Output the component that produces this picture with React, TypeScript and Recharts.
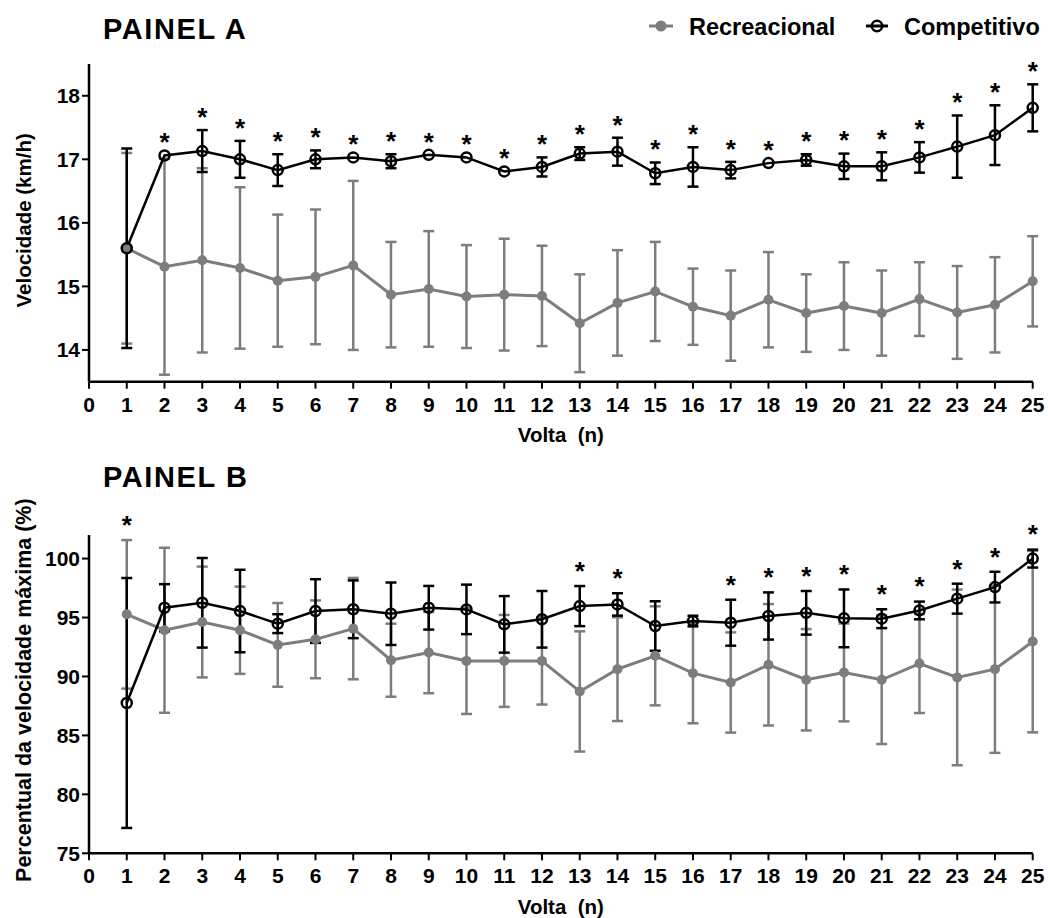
import React from 'react';
import { ComposedChart, Line, XAxis, YAxis, ErrorBar, Scatter, Legend } from 'recharts';

// ---------- data ----------
const laps = [1, 2, 3, 4, 5, 6, 7, 8, 9, 10, 11, 12, 13, 14, 15, 16, 17, 18, 19, 20, 21, 22, 23, 24, 25];
const xTicks = [0, 1, 2, 3, 4, 5, 6, 7, 8, 9, 10, 11, 12, 13, 14, 15, 16, 17, 18, 19, 20, 21, 22, 23, 24, 25];

// Painel A – velocidade (km/h)
const recA = [15.6, 15.31, 15.41, 15.29, 15.09, 15.15, 15.33, 14.87, 14.96, 14.84, 14.87, 14.85, 14.42, 14.74, 14.92, 14.68, 14.54, 14.79, 14.58, 14.69, 14.58, 14.8, 14.59, 14.71, 15.08];
const recASd = [1.5, 1.7, 1.45, 1.27, 1.04, 1.06, 1.33, 0.83, 0.91, 0.81, 0.88, 0.79, 0.77, 0.83, 0.78, 0.6, 0.71, 0.75, 0.61, 0.69, 0.67, 0.58, 0.73, 0.75, 0.71];
const compA = [15.6, 17.06, 17.13, 17.0, 16.83, 17.0, 17.03, 16.97, 17.07, 17.03, 16.81, 16.88, 17.09, 17.12, 16.78, 16.88, 16.83, 16.94, 16.99, 16.89, 16.89, 17.03, 17.2, 17.38, 17.81];
const compASd = [1.57, 0, 0.33, 0.29, 0.25, 0.14, 0, 0.11, 0, 0, 0, 0.15, 0.1, 0.22, 0.17, 0.31, 0.13, 0, 0.09, 0.2, 0.22, 0.24, 0.49, 0.47, 0.37];
const sigA = [2, 3, 4, 5, 6, 7, 8, 9, 10, 11, 12, 13, 14, 15, 16, 17, 18, 19, 20, 21, 22, 23, 24, 25];
const yTicksA = [14, 15, 16, 17, 18];

// Painel B – percentual da velocidade máxima (%)
const recB = [95.27, 93.92, 94.62, 93.92, 92.68, 93.15, 94.06, 91.38, 92.03, 91.32, 91.32, 91.32, 88.73, 90.62, 91.75, 90.28, 89.49, 90.99, 89.72, 90.34, 89.72, 91.1, 89.92, 90.62, 92.96];
const recBSd = [6.3, 7.0, 4.7, 3.7, 3.55, 3.3, 4.3, 3.1, 3.45, 4.5, 3.9, 3.7, 5.1, 4.4, 4.2, 4.25, 4.25, 5.15, 4.3, 4.15, 5.45, 4.2, 7.45, 7.1, 7.7];
const compB = [87.75, 95.83, 96.25, 95.55, 94.48, 95.55, 95.7, 95.32, 95.83, 95.69, 94.42, 94.85, 95.97, 96.11, 94.28, 94.7, 94.56, 95.13, 95.4, 94.93, 94.9, 95.6, 96.6, 97.58, 100];
const compBSd = [10.6, 2.0, 3.8, 3.5, 0.8, 2.7, 2.45, 2.65, 1.85, 2.1, 2.4, 2.4, 1.7, 0.95, 2.1, 0.45, 1.95, 2.0, 1.85, 2.45, 0.8, 0.75, 1.27, 1.3, 0.76];
const sigB = [1, 13, 14, 17, 18, 19, 20, 21, 22, 23, 24, 25];
const yTicksB = [75, 80, 85, 90, 95, 100];

// ---------- styles ----------
const FONT = 'Arial, "Liberation Sans", Helvetica, sans-serif';
const GRAY = '#7d7d7d';
const BLACK = '#000000';
const STAR_FS = 26;

type Row = { lap: number; rec: number; recSd: number; comp: number; compSd: number };

function buildRows(rec: number[], recSd: number[], comp: number[], compSd: number[]): Row[] {
  return laps.map((lap, i) => ({ lap, rec: rec[i], recSd: recSd[i], comp: comp[i], compSd: compSd[i] }));
}

function buildStars(sig: number[], rec: number[], recSd: number[], comp: number[], compSd: number[]) {
  return sig.map((lap) => {
    const i = laps.indexOf(lap);
    return { lap, top: Math.max(rec[i] + recSd[i], comp[i] + compSd[i]) };
  });
}

const rowsA = buildRows(recA, recASd, compA, compASd);
const rowsB = buildRows(recB, recBSd, compB, compBSd);
const starsA = buildStars(sigA, recA, recASd, compA, compASd);
const starsB = buildStars(sigB, recB, recBSd, compB, compBSd);

const makeStar = (off: number) => (props: any) => {
  const { cx, cy } = props;
  if (cx == null || cy == null) return <g />;
  return (
    <text
      x={cx}
      y={cy - off + 0.57 * STAR_FS}
      textAnchor="middle"
      fontSize={STAR_FS}
      fontWeight="bold"
      fontFamily={FONT}
      fill={BLACK}
    >
      *
    </text>
  );
};

const XTitle = (props: any) => {
  const vb = props.viewBox || {};
  return (
    <text
      x={vb.x + vb.width / 2}
      y={vb.y + 60.5}
      textAnchor="middle"
      fontSize={20.5}
      fontWeight="bold"
      fontFamily={FONT}
      fill={BLACK}
      style={{ whiteSpace: 'pre' }}
    >
      {'Volta  (n)'}
    </text>
  );
};

const YTitle = (props: any) => {
  const vb = props.viewBox || {};
  const cy = vb.y + vb.height / 2 + (props.shift || 0);
  return (
    <text
      transform={`translate(${props.bx}, ${cy}) rotate(-90)`}
      textAnchor="middle"
      fontSize={props.fs}
      fontWeight="bold"
      fontFamily={FONT}
      fill={BLACK}
    >
      {props.text}
    </text>
  );
};

const LEGEND_START: Record<string, number> = { Recreacional: 649, Competitivo: 866 };

const LegendContent = (props: any) => {
  const payload = (props.payload || []).filter((p: any) => p.type !== 'none');
  return (
    <svg width={1048} height={45} style={{ display: 'block' }}>
      {payload.map((p: any) => {
        const x0 = LEGEND_START[p.value] ?? 649;
        const isComp = p.value === 'Competitivo';
        const len = isComp ? 22 : 24;
        const cx = x0 + len / 2;
        return (
          <g key={p.value}>
            <line x1={x0} y1={26} x2={x0 + len} y2={26} stroke={p.color} strokeWidth={3} />
            {isComp ? (
              <circle cx={cx} cy={26} r={5.2} fill="none" stroke={BLACK} strokeWidth={2.5} />
            ) : (
              <circle cx={cx} cy={26} r={5.5} fill={GRAY} />
            )}
            <text x={x0 + len + 16} y={35} fontSize={23.5} fontWeight="bold" fontFamily={FONT} fill={BLACK}>
              {p.value}
            </text>
          </g>
        );
      })}
    </svg>
  );
};

const tickStyle = { fontSize: 21, fontWeight: 'bold', fill: BLACK, fontFamily: FONT } as any;
const axisLine = { stroke: BLACK, strokeWidth: 2.5 };
const tickLine = { stroke: BLACK, strokeWidth: 2 };

type PanelProps = {
  rows: Row[];
  stars: { lap: number; top: number }[];
  height: number;
  margin: { top: number; right: number; bottom: number; left: number };
  xAxisHeight: number;
  domain: [number, number];
  yTicks: number[];
  yTitle: string;
  yTitleFs: number;
  yTitleShift: number;
  starOff: number;
  withLegend?: boolean;
};

function Panel(p: PanelProps) {
  return (
    <ComposedChart width={1048} height={p.height} data={p.rows} margin={p.margin}>
      <XAxis
        dataKey="lap"
        type="number"
        domain={[0, 25]}
        ticks={xTicks}
        interval={0}
        height={p.xAxisHeight}
        tick={tickStyle}
        tickSize={7}
        tickMargin={8}
        axisLine={axisLine}
        tickLine={tickLine}
        label={<XTitle />}
      />
      <YAxis
        type="number"
        domain={p.domain}
        ticks={p.yTicks}
        interval={0}
        width={89}
        tick={tickStyle}
        tickSize={7}
        tickMargin={2}
        axisLine={axisLine}
        tickLine={tickLine}
        label={<YTitle text={p.yTitle} fs={p.yTitleFs} bx={31} shift={p.yTitleShift} />}
      />
      {p.withLegend && (
        <Legend
          layout="horizontal"
          verticalAlign="middle"
          align="center"
          wrapperStyle={{ left: 0, top: 0, width: 1048, height: 45 }}
          content={<LegendContent />}
        />
      )}
      <Line
        name="Recreacional"
        dataKey="rec"
        stroke={GRAY}
        strokeWidth={3}
        dot={{ r: 5, fill: GRAY, stroke: GRAY, strokeWidth: 0 }}
        activeDot={false}
        isAnimationActive={false}
      >
        <ErrorBar dataKey="recSd" direction="y" width={5.5} stroke={GRAY} strokeWidth={2.5} />
      </Line>
      <Line
        name="Competitivo"
        dataKey="comp"
        stroke={BLACK}
        strokeWidth={2.5}
        dot={{ r: 5, fill: 'none', stroke: BLACK, strokeWidth: 2.5 }}
        activeDot={false}
        isAnimationActive={false}
      >
        <ErrorBar dataKey="compSd" direction="y" width={5.5} stroke={BLACK} strokeWidth={2.5} />
      </Line>
      <Scatter
        data={p.stars}
        dataKey="top"
        legendType="none"
        shape={makeStar(p.starOff)}
        isAnimationActive={false}
      />
    </ComposedChart>
  );
}

export default function App() {
  return (
    <div
      style={{
        position: 'absolute',
        left: 0,
        top: 0,
        width: 1048,
        height: 918,
        background: '#ffffff',
        fontFamily: FONT,
        overflow: 'hidden',
      }}
    >
      <svg width={1048} height={918} style={{ position: 'absolute', left: 0, top: 0 }}>
        <text x={103} y={38.5} fontSize={29} letterSpacing={1.6} fontWeight="bold" fontFamily={FONT} fill={BLACK}>
          PAINEL A
        </text>
        <text x={103} y={487} fontSize={29} letterSpacing={1.6} fontWeight="bold" fontFamily={FONT} fill={BLACK}>
          PAINEL B
        </text>
      </svg>
      <div style={{ position: 'absolute', left: 0, top: 0 }}>
        <Panel
          rows={rowsA}
          stars={starsA}
          height={460}
          margin={{ top: 64, right: 15.3, bottom: 18.3, left: 0 }}
          xAxisHeight={60}
          domain={[13.5, 18.5]}
          yTicks={yTicksA}
          yTitle="Velocidade (km/h)"
          yTitleFs={20.5}
          yTitleShift={-2.5}
          starOff={19}
          withLegend
        />
      </div>
      <div style={{ position: 'absolute', left: 0, top: 460 }}>
        <Panel
          rows={rowsB}
          stars={starsB}
          height={458}
          margin={{ top: 75, right: 15.3, bottom: 14.7, left: 0 }}
          xAxisHeight={50}
          domain={[75, 102]}
          yTicks={yTicksB}
          yTitle="Percentual da velocidade máxima (%)"
          yTitleFs={21.5}
          yTitleShift={-4}
          starOff={21}
        />
      </div>
    </div>
  );
}
